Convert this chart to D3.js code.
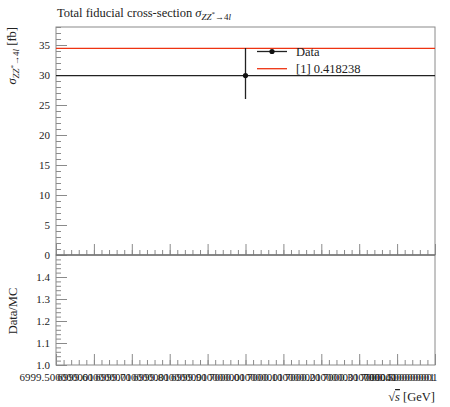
<!DOCTYPE html>
<html>
<head>
<meta charset="utf-8">
<script src="https://cdn.jsdelivr.net/npm/d3@7"></script>
<style>
  body { margin: 0; background: #fff; }
  text { font-family: "Liberation Serif", "DejaVu Serif", serif; fill: #222; }
</style>
</head>
<body>
<script>
// Measured values
const binLow = [6999.5];
const binHigh = [7000.5];
const binCentre = [7000];
const dataValues = [29.9];
const dataErrUp = [4.6];
const dataErrDown = [3.9];
const mcValues = [34.45];
const legendLabels = ["Data", "[1] 0.418238"];

const xTickValues = [6999.5, 6999.6, 6999.7, 6999.8, 6999.9, 7000.0, 7000.1, 7000.2, 7000.3, 7000.4, 7000.5];
const xTickLabels = ["6999.500000001", "6999.600000001", "6999.700000001", "6999.800000001", "6999.900000001",
                     "7000.000000001", "7000.100000001", "7000.200000001", "7000.300000001",
                     "7000.400000001", "7000.500000001"];
const yTickValues = [0, 5, 10, 15, 20, 25, 30, 35];
const ratioTickValues = [1.0, 1.1, 1.2, 1.3, 1.4];

const width = 450;
const height = 407;
const left = 56, right = 435;
const mainTop = 27, mainBottom = 255, ratioBottom = 365;
const frameColor = "#8a8a8a";

const svg = d3.select("body").append("svg")
    .attr("width", width)
    .attr("height", height);

const x = d3.scaleLinear().domain([6999.5, 7000.5]).range([left, right]);
const y = d3.scaleLinear().domain([0, 38]).range([mainBottom, mainTop]);
const yr = d3.scaleLinear().domain([1.0, 1.5]).range([ratioBottom, mainBottom]);

// clip paths
svg.append("clipPath").attr("id", "clipMain")
  .append("rect").attr("x", left).attr("y", mainTop)
  .attr("width", right - left).attr("height", mainBottom - mainTop);
svg.append("clipPath").attr("id", "clipRatio")
  .append("rect").attr("x", left).attr("y", mainBottom)
  .attr("width", right - left).attr("height", ratioBottom - mainBottom);

function styleAxis(g) {
  g.select(".domain").remove();
  g.selectAll("line").attr("stroke", frameColor);
  g.selectAll("text").attr("font-family", "Liberation Serif").attr("font-size", 11).attr("fill", "#222");
}

// main y axis
svg.append("g").attr("transform", `translate(${left},0)`)
  .call(d3.axisLeft(y).tickValues(y.ticks(38)).tickSize(-5).tickFormat(""))
  .call(styleAxis);
svg.append("g").attr("transform", `translate(${left},0)`)
  .call(d3.axisLeft(y).tickValues(yTickValues).tickSize(-11).tickPadding(6).tickFormat(d3.format("d")))
  .call(styleAxis);

// ratio y axis
svg.append("g").attr("transform", `translate(${left},0)`)
  .call(d3.axisLeft(yr).tickValues(yr.ticks(25)).tickSize(-5).tickFormat(""))
  .call(styleAxis);
svg.append("g").attr("transform", `translate(${left},0)`)
  .call(d3.axisLeft(yr).tickValues(ratioTickValues).tickSize(-11).tickPadding(6).tickFormat(d3.format(".1f")))
  .call(styleAxis);

// x axes (main and ratio)
[mainBottom, ratioBottom].forEach((yy, i) => {
  svg.append("g").attr("transform", `translate(0,${yy})`)
    .call(d3.axisBottom(x).tickValues(x.ticks(50)).tickSize(-5).tickFormat(""))
    .call(styleAxis);
  const g = svg.append("g").attr("transform", `translate(0,${yy})`)
    .call(d3.axisBottom(x).tickValues(xTickValues).tickSize(-11).tickPadding(8)
      .tickFormat((d, k) => i === 1 ? xTickLabels[k] : ""))
    .call(styleAxis);
  // keep the last label inside the picture
  g.selectAll(".tick text").filter((d, k, n) => k === n.length - 1)
    .attr("text-anchor", "end").attr("x", 2);
});

// frames
svg.append("rect").attr("x", left).attr("y", mainTop)
  .attr("width", right - left).attr("height", mainBottom - mainTop)
  .attr("fill", "none").attr("stroke", frameColor);
svg.append("rect").attr("x", left).attr("y", mainBottom)
  .attr("width", right - left).attr("height", ratioBottom - mainBottom)
  .attr("fill", "none").attr("stroke", frameColor);
svg.append("line").attr("x1", left).attr("x2", right)
  .attr("y1", mainBottom).attr("y2", mainBottom).attr("stroke", "#666");

// MC line
const main = svg.append("g").attr("clip-path", "url(#clipMain)");
main.selectAll(".mc").data(mcValues).enter().append("line")
  .attr("x1", (d, i) => x(binLow[i])).attr("x2", (d, i) => x(binHigh[i]))
  .attr("y1", d => y(d)).attr("y2", d => y(d))
  .attr("stroke", "#ee3311").attr("stroke-width", 1.3);

// Data
main.selectAll(".dh").data(dataValues).enter().append("line")
  .attr("x1", (d, i) => x(binLow[i])).attr("x2", (d, i) => x(binHigh[i]))
  .attr("y1", d => y(d)).attr("y2", d => y(d))
  .attr("stroke", "#222").attr("stroke-width", 1.3);
main.selectAll(".dv").data(dataValues).enter().append("line")
  .attr("x1", (d, i) => x(binCentre[i])).attr("x2", (d, i) => x(binCentre[i]))
  .attr("y1", (d, i) => y(d + dataErrUp[i])).attr("y2", (d, i) => y(d - dataErrDown[i]))
  .attr("stroke", "#222").attr("stroke-width", 1.3);
main.selectAll(".dp").data(dataValues).enter().append("circle")
  .attr("cx", (d, i) => x(binCentre[i])).attr("cy", d => y(d))
  .attr("r", 2.6).attr("fill", "#111");

// Ratio (data / MC), off-scale here, drawn via scale and clipped
const ratio = svg.append("g").attr("clip-path", "url(#clipRatio)");
ratio.selectAll(".rh").data(dataValues).enter().append("line")
  .attr("x1", (d, i) => x(binLow[i])).attr("x2", (d, i) => x(binHigh[i]))
  .attr("y1", (d, i) => yr(d / mcValues[i])).attr("y2", (d, i) => yr(d / mcValues[i]))
  .attr("stroke", "#222").attr("stroke-width", 1.3);

// Legend
const lg = svg.append("g").attr("transform", "translate(257,0)");
lg.append("line").attr("x1", 0).attr("x2", 30).attr("y1", 51.5).attr("y2", 51.5)
  .attr("stroke", "#222").attr("stroke-width", 1.3);
lg.append("circle").attr("cx", 15).attr("cy", 51.5).attr("r", 2.6).attr("fill", "#111");
lg.append("line").attr("x1", 0).attr("x2", 30).attr("y1", 68.7).attr("y2", 68.7)
  .attr("stroke", "#ee3311").attr("stroke-width", 1.3);
lg.selectAll("text.leg").data(legendLabels).enter().append("text")
  .attr("x", 39).attr("y", (d, i) => 55.5 + i * 17)
  .attr("font-size", 12.5).text(d => d);

// Title
const title = svg.append("text").attr("x", 57).attr("y", 17).attr("font-size", 12.5);
title.append("tspan").text("Total fiducial cross-section ");
title.append("tspan").attr("font-style", "italic").text("σ");
title.append("tspan").attr("font-style", "italic").attr("font-size", 9).attr("dy", 3).text("ZZ");
title.append("tspan").attr("font-size", 7).attr("dy", -4).text("*");
title.append("tspan").attr("font-size", 9).attr("dy", 4).text("→4");
title.append("tspan").attr("font-style", "italic").attr("font-size", 9).text("l");

// Y label main
const yl = svg.append("text").attr("transform", "translate(16,27) rotate(-90)")
  .attr("text-anchor", "end").attr("font-size", 12.5);
yl.append("tspan").attr("font-style", "italic").text("σ");
yl.append("tspan").attr("font-style", "italic").attr("font-size", 9).attr("dy", 3).text("ZZ");
yl.append("tspan").attr("font-size", 7).attr("dy", -4).text("*");
yl.append("tspan").attr("font-size", 9).attr("dy", 4).text("→4");
yl.append("tspan").attr("font-style", "italic").attr("font-size", 9).text("l");
yl.append("tspan").attr("dy", -3).text(" [fb]");

// Y label ratio
svg.append("text").attr("transform", "translate(17,311) rotate(-90)")
  .attr("text-anchor", "middle").attr("font-size", 12.5).text("Data/MC");

// X label
const xl = svg.append("text").attr("x", 435).attr("y", 401)
  .attr("text-anchor", "end").attr("font-size", 12.5);
xl.append("tspan").text("√");
xl.append("tspan").attr("font-style", "italic").attr("text-decoration", "overline").text("s");
xl.append("tspan").text(" [GeV]");
</script>
</body>
</html>
